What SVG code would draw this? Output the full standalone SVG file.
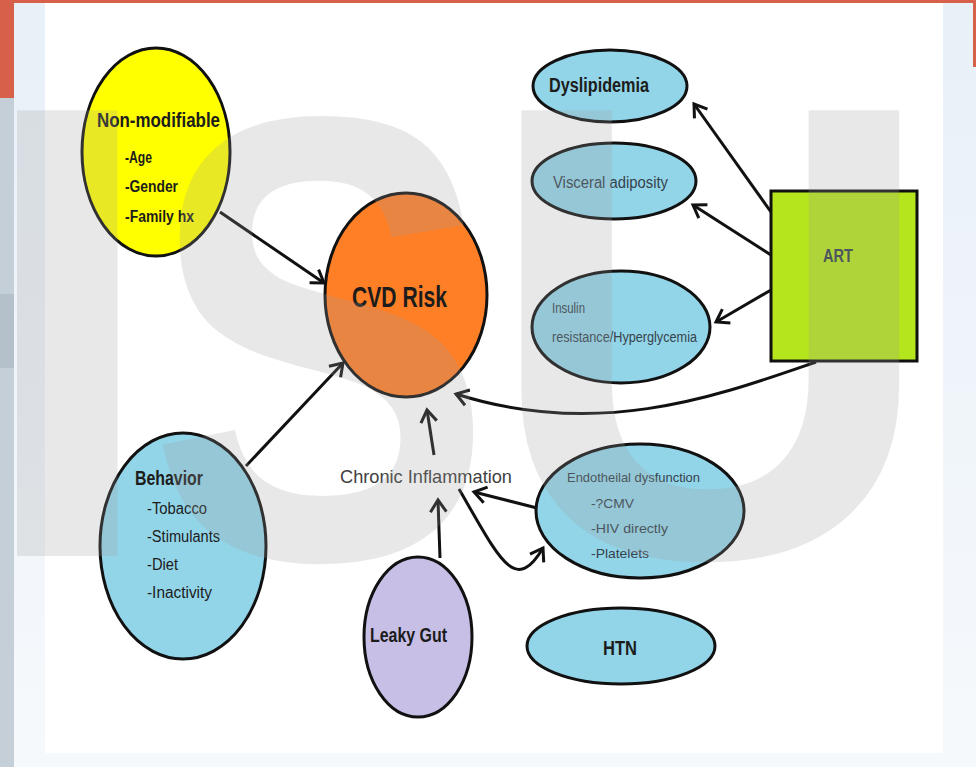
<svg xmlns="http://www.w3.org/2000/svg" width="976" height="767" viewBox="0 0 976 767">
  <defs>
    <linearGradient id="slideBg" x1="0" y1="0" x2="0" y2="1">
      <stop offset="0" stop-color="#e8f0f8"/>
      <stop offset="1" stop-color="#f6f9fc"/>
    </linearGradient>
    <marker id="chevron" markerUnits="userSpaceOnUse" markerWidth="20" markerHeight="20" viewBox="0 0 20 20" refX="16" refY="10" orient="auto">
      <path d="M4,2 L16,10 L4,18" fill="none" stroke="#111" stroke-width="3" stroke-linejoin="miter"/>
    </marker>
    <style>
      .node { stroke: #111; stroke-width: 3; }
      .link { fill: none; stroke: #111; stroke-width: 3; marker-end: url(#chevron); }
      .t { font-family: "Liberation Sans", Arial, sans-serif; fill: #1c1c1c; }
      .b { font-weight: bold; }
      .soft { fill: #36424c; }
      .mark { font-family: "Liberation Sans", Arial, sans-serif; font-weight: bold; font-size: 623px; fill: #9a9a9a; fill-opacity: 0.23; }
    </style>
  </defs>

  <!-- slide frame -->
  <g id="slide">
    <rect x="0" y="0" width="976" height="767" fill="url(#slideBg)"/>
    <rect x="45" y="3" width="898" height="750" fill="#ffffff"/>
    <rect x="0" y="98" width="14" height="669" fill="#c4cfd8"/>
    <rect x="0" y="294" width="14" height="74" fill="#b4c1cb"/>
    <rect x="0" y="0" width="976" height="3" fill="#d7604a"/>
    <rect x="0" y="0" width="14" height="98" fill="#d7604a"/>
    <rect x="973" y="0" width="3" height="67" fill="#d7604a"/>
  </g>

  <!-- connectors -->
  <g id="connectors">
    <path class="link" d="M220 212 L324 283"/>
    <path class="link" d="M246 466 L343 363"/>
    <path class="link" d="M434 455 L427 410"/>
    <path class="link" d="M816 362 C720 395 600 440 456 394"/>
    <path class="link" d="M440 558 L438 500"/>
    <path class="link" d="M537 508 L474 492"/>
    <path class="link" d="M459 489 C500 560 515 595 543 548"/>
    <path class="link" d="M771 212 L694 104"/>
    <path class="link" d="M771 255 L693 205"/>
    <path class="link" d="M771 290 L716 322"/>
  </g>

  <g id="non-modifiable">
    <ellipse class="node" cx="156" cy="152" rx="74" ry="104" fill="#ffff00"/>
    <text class="t b" x="97" y="127" font-size="20" textLength="123" lengthAdjust="spacingAndGlyphs">Non-modifiable</text>
    <text class="t b" x="125" y="163" font-size="16" textLength="27" lengthAdjust="spacingAndGlyphs">-Age</text>
    <text class="t b" x="125" y="192" font-size="16" textLength="53" lengthAdjust="spacingAndGlyphs">-Gender</text>
    <text class="t b" x="125" y="222" font-size="16" textLength="69" lengthAdjust="spacingAndGlyphs">-Family hx</text>
  </g>

  <g id="cvd-risk">
    <ellipse class="node" cx="406" cy="295" rx="81" ry="102" fill="#ff7f27"/>
    <text class="t b" x="352" y="307" font-size="30" textLength="95" lengthAdjust="spacingAndGlyphs">CVD Risk</text>
  </g>

  <g id="behavior">
    <ellipse class="node" cx="183" cy="546" rx="83" ry="113" fill="#93d5e8"/>
    <text class="t b" x="135" y="485" font-size="20" textLength="68" lengthAdjust="spacingAndGlyphs">Behavior</text>
    <text class="t" x="147" y="514" font-size="16" textLength="60" lengthAdjust="spacingAndGlyphs">-Tobacco</text>
    <text class="t" x="147" y="542" font-size="16" textLength="73" lengthAdjust="spacingAndGlyphs">-Stimulants</text>
    <text class="t" x="147" y="570" font-size="16" textLength="31" lengthAdjust="spacingAndGlyphs">-Diet</text>
    <text class="t" x="147" y="598" font-size="16" textLength="65" lengthAdjust="spacingAndGlyphs">-Inactivity</text>
  </g>

  <g id="chronic-inflammation">
    <text class="t" x="340" y="483" font-size="19" style="fill:#404040" textLength="172" lengthAdjust="spacingAndGlyphs">Chronic Inflammation</text>
  </g>

  <g id="leaky-gut">
    <ellipse class="node" cx="418" cy="637" rx="54" ry="80" fill="#c8bfe7"/>
    <text class="t b" x="370" y="642" font-size="20" textLength="77" lengthAdjust="spacingAndGlyphs">Leaky Gut</text>
  </g>

  <g id="endothelial">
    <ellipse class="node" cx="640" cy="511" rx="104" ry="67" fill="#93d5e8"/>
    <text class="t soft" x="567" y="482" font-size="13" textLength="133" lengthAdjust="spacingAndGlyphs">Endotheilal dysfunction</text>
    <text class="t soft" x="591" y="508" font-size="13" textLength="43" lengthAdjust="spacingAndGlyphs">-?CMV</text>
    <text class="t soft" x="591" y="533" font-size="13" textLength="77" lengthAdjust="spacingAndGlyphs">-HIV directly</text>
    <text class="t soft" x="591" y="558" font-size="13" textLength="58" lengthAdjust="spacingAndGlyphs">-Platelets</text>
  </g>

  <g id="htn">
    <ellipse class="node" cx="621" cy="646" rx="94" ry="38" fill="#93d5e8"/>
    <text class="t b" x="603" y="655" font-size="20" textLength="34" lengthAdjust="spacingAndGlyphs">HTN</text>
  </g>

  <g id="dyslipidemia">
    <ellipse class="node" cx="610" cy="86" rx="77" ry="36" fill="#93d5e8"/>
    <text class="t b" x="549" y="92" font-size="20" textLength="100" lengthAdjust="spacingAndGlyphs">Dyslipidemia</text>
  </g>

  <g id="visceral-adiposity">
    <ellipse class="node" cx="614" cy="181" rx="82" ry="38" fill="#93d5e8"/>
    <text class="t soft" x="553" y="188" font-size="16" textLength="115" lengthAdjust="spacingAndGlyphs">Visceral adiposity</text>
  </g>

  <g id="insulin-resistance">
    <ellipse class="node" cx="621" cy="327" rx="89" ry="56" fill="#93d5e8"/>
    <text class="t soft" x="552" y="313" font-size="14" textLength="33" lengthAdjust="spacingAndGlyphs">Insulin</text>
    <text class="t soft" x="552" y="342" font-size="14" textLength="145" lengthAdjust="spacingAndGlyphs">resistance/Hyperglycemia</text>
  </g>

  <g id="art">
    <rect class="node" x="771" y="191" width="146" height="170" fill="#b5e61d"/>
    <text class="t b soft" x="823" y="262" font-size="18" textLength="30" lengthAdjust="spacingAndGlyphs">ART</text>
  </g>

  <!-- translucent ISU watermark over the slide -->
  <g id="watermark">
    <text class="mark" transform="translate(-29.7 556) scale(1.12 1.04)">I</text>
    <text class="mark" transform="translate(148 558) scale(0.831 1.016)">S</text>
    <text class="mark" transform="translate(483.6 556) scale(1.009 1.04)">U</text>
  </g>
</svg>
